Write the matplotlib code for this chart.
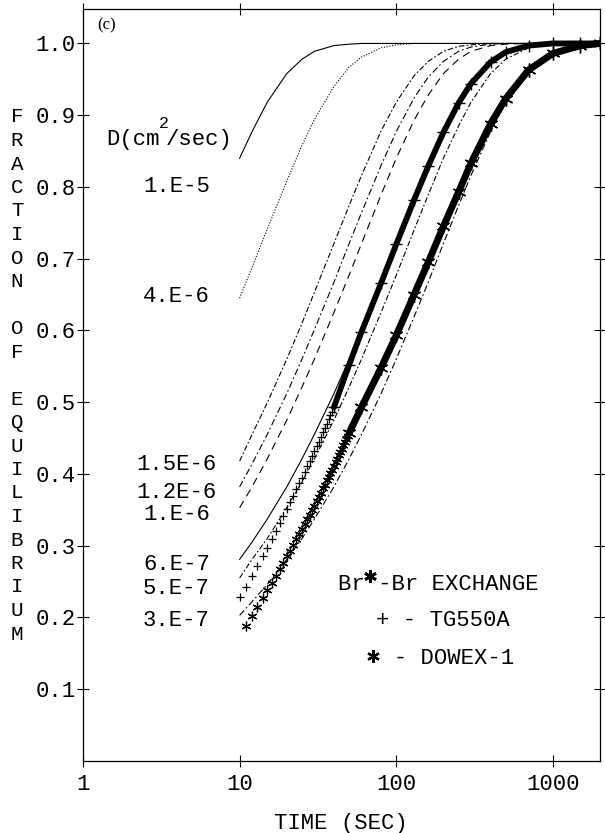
import numpy as np
import matplotlib.pyplot as plt

# ---- data ----
t_model = [10, 12, 15, 20, 25, 30, 40, 50, 60, 80, 100, 130, 160, 200, 250,
           300, 400, 500, 700, 1000, 1500, 2000]

f_1e5 = [0.840, 0.877, 0.918, 0.958, 0.978, 0.989, 0.997, 0.999, 1.0, 1.0, 1.0,
         1.0, 1.0, 1.0, 1.0, 1.0, 1.0, 1.0, 1.0, 1.0, 1.0, 1.0]
f_4e6 = [0.645, 0.688, 0.741, 0.808, 0.858, 0.894, 0.940, 0.967, 0.981, 0.994,
         0.998, 1.0, 1.0, 1.0, 1.0, 1.0, 1.0, 1.0, 1.0, 1.0, 1.0, 1.0]
f_15e6 = [0.418, 0.455, 0.499, 0.560, 0.610, 0.653, 0.721, 0.774, 0.816, 0.878,
          0.918, 0.955, 0.975, 0.989, 0.996, 0.998, 1.0, 1.0, 1.0, 1.0, 1.0, 1.0]
f_12e6 = [0.382, 0.414, 0.455, 0.512, 0.560, 0.601, 0.667, 0.721, 0.764, 0.830,
          0.877, 0.924, 0.953, 0.975, 0.989, 0.995, 0.999, 1.0, 1.0, 1.0, 1.0, 1.0]
f_1e6 = [0.353, 0.382, 0.421, 0.475, 0.521, 0.560, 0.625, 0.677, 0.721, 0.789,
         0.840, 0.893, 0.928, 0.958, 0.978, 0.989, 0.997, 0.999, 1.0, 1.0, 1.0, 1.0]
f_6e7 = [0.281, 0.305, 0.337, 0.382, 0.421, 0.455, 0.512, 0.560, 0.601, 0.667,
         0.721, 0.783, 0.830, 0.877, 0.918, 0.945, 0.975, 0.989, 0.998, 1.0, 1.0, 1.0]
f_5e7 = [0.255, 0.281, 0.310, 0.353, 0.389, 0.421, 0.475, 0.521, 0.560, 0.625,
         0.677, 0.740, 0.789, 0.840, 0.885, 0.918, 0.958, 0.978, 0.994, 0.999, 1.0, 1.0]
f_3e7 = [0.203, 0.222, 0.246, 0.281, 0.310, 0.337, 0.382, 0.421, 0.455, 0.512,
         0.560, 0.619, 0.667, 0.721, 0.774, 0.816, 0.877, 0.918, 0.963, 0.989, 0.998, 1.0]

# TG550A (+) measured points
t_tg = list(range(10, 41))
f_tg = [0.228, 0.243, 0.258, 0.272, 0.285, 0.297, 0.309, 0.320, 0.331, 0.341,
        0.351, 0.361, 0.370, 0.379, 0.387, 0.395, 0.403, 0.411, 0.418, 0.425,
        0.432, 0.439, 0.445, 0.452, 0.458, 0.464, 0.470, 0.476, 0.482, 0.487, 0.493]
t_tg_band = [40, 50, 60, 80, 100, 130, 160, 200, 250, 300, 400, 500, 700, 1000, 1500, 2000]
f_tg_band = [0.493, 0.552, 0.598, 0.666, 0.720, 0.782, 0.829, 0.876, 0.917, 0.944,
             0.974, 0.988, 0.997, 1.0, 1.0, 1.0]

# DOWEX-1 (*) measured points
t_dw = list(range(11, 51))
f_dw = [0.188, 0.202, 0.215, 0.227, 0.238, 0.248, 0.258, 0.267, 0.276, 0.285,
        0.293, 0.301, 0.309, 0.316, 0.323, 0.330, 0.337, 0.343, 0.350, 0.356,
        0.362, 0.368, 0.374, 0.380, 0.385, 0.391, 0.396, 0.401, 0.406, 0.411,
        0.416, 0.421, 0.426, 0.431, 0.435, 0.440, 0.444, 0.449, 0.453, 0.457]
t_dw_band = [50, 60, 80, 100, 130, 160, 200, 250, 300, 400, 500, 700, 1000, 1500, 2000]
f_dw_band = [0.457, 0.493, 0.548, 0.593, 0.650, 0.695, 0.745, 0.793, 0.833, 0.888,
             0.923, 0.963, 0.986, 0.997, 1.0]

W, H = 605, 833
MONO = 'Liberation Mono'
plt.rcParams['font.family'] = MONO
plt.rcParams['font.size'] = 16


def fx(x):
    return x / W


def fy(y):
    return 1 - y / H


fig = plt.figure(figsize=(W / 100, H / 100), dpi=100)
ax = fig.add_axes([fx(83), fy(761), (600 - 83) / W, (761 - 9) / H])

lw = 0.8
ax.plot(t_model, f_1e5, color='k', lw=lw, ls='-')
ax.plot(t_model, f_4e6, color='k', lw=lw, ls=(0, (1, 1.5)))
ax.plot(t_model, f_15e6, color='k', lw=lw, ls=(0, (5, 2, 1.5, 2)))
ax.plot(t_model, f_12e6, color='k', lw=lw, ls=(0, (6, 2.5, 1.5, 2.5)))
ax.plot(t_model, f_1e6, color='k', lw=lw, ls=(0, (7, 5)))
ax.plot(t_model, f_6e7, color='k', lw=lw, ls='-')
ax.plot(t_model, f_5e7, color='k', lw=lw, ls=(0, (5, 2, 1.5, 2)))
ax.plot(t_model, f_3e7, color='k', lw=lw, ls=(0, (6, 2.5, 1.5, 2.5)))

# data
ax.plot(t_tg, f_tg, ls='none', marker='+', ms=6, mew=0.9, color='k')
ax.plot(t_tg_band, f_tg_band, '-', lw=4.2, color='k', solid_capstyle='round')
ax.plot(t_tg_band, f_tg_band, ls='none', marker='+', ms=8, mew=1, color='k')
ax.plot(t_dw, f_dw, ls='none', marker=(6, 2, 0), ms=7, mew=0.9, color='k')
ax.plot(t_dw_band, f_dw_band, '-', lw=5.0, color='k', solid_capstyle='round')
ax.plot(t_dw_band, f_dw_band, ls='none', marker=(6, 2, 0), ms=10, mew=1, color='k')

ax.set_xscale('log')
ax.set_xlim(1, 2000)
ax.set_ylim(0, 1.048)
ax.set_xticks([1, 10, 100, 1000], ['1', '10', '100', '1000'])
ax.set_yticks([0.1, 0.2, 0.3, 0.4, 0.5, 0.6, 0.7, 0.8, 0.9, 1.0],
              ['0.1', '0.2', '0.3', '0.4', '0.5', '0.6', '0.7', '0.8', '0.9', '1.0'])
ax.minorticks_off()
ax.tick_params(direction='inout', length=9, width=0.8, top=True, right=True,
               labelsize=16)
ax.tick_params(axis='y', pad=1)
ax.tick_params(axis='x', pad=5)
for s in ax.spines.values():
    s.set_linewidth(0.9)

# vertical stacked y label
ylab = "FRACTION OF EQUILIBRIUM"
for i, ch in enumerate(ylab):
    if ch != ' ':
        fig.text(fx(17), fy(117 + i * 23.5), ch, ha='center', va='center',
                 fontsize=15)

fig.text(fx(341), fy(829), 'TIME (SEC)', ha='center', va='baseline', fontsize=16)
fig.text(fx(97), fy(25), '(c)', ha='left', va='center', fontsize=12,
         family='Liberation Serif')

# D labels
fig.text(fx(106), fy(139), 'D(cm', ha='left', va='center')
fig.text(fx(159), fy(124), '2', ha='left', va='center', fontsize=12)
fig.text(fx(166), fy(139), '/sec)', ha='left', va='center')
labels = ['1.E-5', '4.E-6', '1.5E-6', '1.2E-6', '1.E-6', '6.E-7', '5.E-7', '3.E-7']
lab_x = [143, 143, 136, 136, 143, 143, 143, 143]
lab_y = [187, 297, 464, 493, 515, 564, 589, 620]
for s, x, y in zip(labels, lab_x, lab_y):
    fig.text(fx(x), fy(y), s, ha='left', va='center')

# legend block
fig.text(fx(338), fy(585), 'Br -Br EXCHANGE', ha='left', va='center')
fig.lines.append(plt.Line2D([fx(370)], [fy(576)], transform=fig.transFigure,
                            marker=(6, 2, 0), ms=9, mew=2.0, color='k'))
fig.text(fx(376), fy(620), '+ - TG550A', ha='left', va='center')
fig.text(fx(367), fy(658), '  - DOWEX-1', ha='left', va='center')
fig.lines.append(plt.Line2D([fx(373)], [fy(656)], transform=fig.transFigure,
                            marker=(6, 2, 0), ms=9, mew=1.6, color='k'))

fig.savefig('out.png', dpi=100)
